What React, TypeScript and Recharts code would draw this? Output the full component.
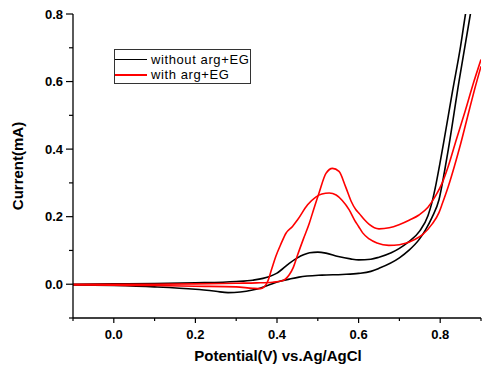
import React from "react";
import { LineChart, Line, XAxis, YAxis, Legend } from "recharts";

const FONT = '"Liberation Sans", Arial, sans-serif';

const xTicks = [-0.1, 0, 0.1, 0.2, 0.3, 0.4, 0.5, 0.6, 0.7, 0.8, 0.9];
const yTicks = [-0.1, 0, 0.1, 0.2, 0.3, 0.4, 0.5, 0.6, 0.7, 0.8];

const seriesNames = ["without arg+EG", "with arg+EG"];
const seriesColors = ["#000000", "#ff0000"];

// [potential (V), current (mA)] - each scan branch, left to right
const blackUpper = [
  [-0.1, 0.0], [0.0, 0.001], [0.1, 0.002], [0.2, 0.004], [0.3, 0.008],
  [0.34, 0.012], [0.38, 0.022], [0.4, 0.033], [0.43, 0.062], [0.45, 0.078],
  [0.465, 0.087], [0.48, 0.093], [0.5, 0.095], [0.52, 0.092], [0.55, 0.082],
  [0.58, 0.075], [0.6, 0.072], [0.63, 0.074], [0.65, 0.08], [0.68, 0.093],
  [0.7, 0.106], [0.72, 0.123], [0.75, 0.158], [0.77, 0.203], [0.78, 0.243],
  [0.79, 0.298], [0.8, 0.362], [0.81, 0.43], [0.83, 0.57], [0.85, 0.705],
  [0.862, 0.8], [0.88, 0.92],
];

const blackLower = [
  [-0.1, -0.002], [0.0, -0.004], [0.1, -0.008], [0.2, -0.015], [0.25, -0.021],
  [0.28, -0.025], [0.31, -0.023], [0.34, -0.017], [0.36, -0.011], [0.38, -0.002],
  [0.405, 0.008], [0.43, 0.015], [0.454, 0.021], [0.51, 0.027], [0.56, 0.029],
  [0.6, 0.032], [0.63, 0.038], [0.65, 0.047], [0.7, 0.078], [0.723, 0.1],
  [0.75, 0.135], [0.764, 0.161], [0.78, 0.198], [0.797, 0.25], [0.81, 0.33],
  [0.82, 0.4], [0.846, 0.6], [0.874, 0.8], [0.89, 0.91],
];

const redBroad = [
  [-0.1, -0.002], [0.0, -0.003], [0.1, -0.004], [0.2, -0.006], [0.3, -0.008],
  [0.34, -0.012], [0.36, -0.013], [0.37, -0.006], [0.377, 0.008], [0.387, 0.045],
  [0.397, 0.082], [0.41, 0.12], [0.422, 0.151], [0.438, 0.171], [0.45, 0.19],
  [0.475, 0.235], [0.495, 0.258], [0.51, 0.267], [0.528, 0.27], [0.545, 0.264],
  [0.56, 0.248], [0.577, 0.22], [0.59, 0.19], [0.6, 0.171], [0.61, 0.152],
  [0.626, 0.134], [0.645, 0.122], [0.674, 0.115], [0.7, 0.117], [0.715, 0.121],
  [0.735, 0.131], [0.756, 0.146], [0.78, 0.178], [0.797, 0.212], [0.805, 0.238],
  [0.82, 0.29], [0.835, 0.35], [0.85, 0.415], [0.87, 0.51], [0.885, 0.58],
  [0.9, 0.645],
];

const redSharp = [
  [-0.1, 0.0], [0.0, 0.0], [0.1, 0.0], [0.2, 0.001], [0.3, 0.003],
  [0.35, 0.004], [0.39, 0.006], [0.413, 0.01], [0.43, 0.028], [0.44, 0.05],
  [0.45, 0.085], [0.465, 0.135], [0.479, 0.18], [0.49, 0.222], [0.503, 0.27],
  [0.52, 0.328], [0.536, 0.343], [0.552, 0.334], [0.568, 0.289], [0.582, 0.245],
  [0.593, 0.221], [0.601, 0.21], [0.615, 0.19], [0.626, 0.177], [0.65, 0.164],
  [0.675, 0.167], [0.699, 0.176], [0.725, 0.19], [0.748, 0.205], [0.77, 0.228],
  [0.789, 0.262], [0.805, 0.3], [0.82, 0.35], [0.84, 0.43], [0.862, 0.516],
  [0.88, 0.59], [0.9, 0.665],
];

const toPoints = (arr: number[][]) => arr.map(([v, i]) => ({ v, i }));

const isMajor = (v: number) => Math.round(v * 10) % 2 === 0;

const BottomTick = ({ x, y, payload }: any) => {
  const major = isMajor(payload.value);
  return (
    <g>
      <line x1={x} x2={x} y1={y} y2={y + (major ? 5 : 3)} stroke="#000" strokeWidth={1.2} />
      {major && (
        <text x={x} y={y + 21} textAnchor="middle" fontSize={13} fontWeight="bold" fontFamily={FONT} fill="#000">
          {payload.value.toFixed(1)}
        </text>
      )}
    </g>
  );
};

const LeftTick = ({ x, y, payload }: any) => {
  const major = isMajor(payload.value);
  return (
    <g>
      <line x1={x - (major ? 7 : 4)} x2={x} y1={y} y2={y} stroke="#000" strokeWidth={1.2} />
      {major && (
        <text x={x - 10} y={y + 4.6} textAnchor="end" fontSize={13} fontWeight="bold" fontFamily={FONT} fill="#000">
          {payload.value.toFixed(1)}
        </text>
      )}
    </g>
  );
};

const NoLabel = () => <g />;

const YTitle = ({ viewBox }: any) => {
  const cx = viewBox.x + 23;
  const cy = viewBox.y + viewBox.height / 2;
  return (
    <text x={cx} y={cy} transform={`rotate(-90 ${cx} ${cy})`} textAnchor="middle" fontSize={15} fontWeight="bold" fontFamily={FONT} fill="#000">
      Current(mA)
    </text>
  );
};

const XTitle = ({ viewBox }: any) => {
  const cx = viewBox.x + viewBox.width / 2 + 1;
  return (
    <text x={cx} y={viewBox.y + 43} textAnchor="middle" fontSize={15} fontWeight="bold" fontFamily={FONT} fill="#000">
      Potential(V) vs.Ag/AgCl
    </text>
  );
};

const LegendBox = () => (
  <div
    style={{
      width: 137,
      height: 35,
      boxSizing: "border-box",
      border: "1px solid #333",
      position: "relative",
      background: "#fff",
      fontFamily: FONT,
      fontSize: 13,
      color: "#000",
    }}
  >
    {seriesNames.map((n, k) => (
      <div
        key={n}
        style={{ position: "absolute", left: 0, top: 2 + k * 15, height: 15, display: "flex", alignItems: "center" }}
      >
        <div style={{ width: 32, height: 0, borderTop: `${k ? 2 : 1.5}px solid ${seriesColors[k]}` }} />
        <span style={{ marginLeft: 4, letterSpacing: 0.6, whiteSpace: "nowrap", lineHeight: "15px" }}>{n}</span>
      </div>
    ))}
  </div>
);

export default function App() {
  const branches = [
    { key: "bu", data: toPoints(blackUpper), color: seriesColors[0] },
    { key: "bl", data: toPoints(blackLower), color: seriesColors[0] },
    { key: "rb", data: toPoints(redBroad), color: seriesColors[1] },
    { key: "rs", data: toPoints(redSharp), color: seriesColors[1] },
  ];
  return (
    <div style={{ position: "absolute", left: 0, top: 0, width: 482, height: 373, background: "#fff", fontFamily: FONT }}>
      <LineChart width={482} height={373} margin={{ top: 14, right: 1, bottom: 0, left: 0 }}>
        <XAxis
          xAxisId="bottom"
          dataKey="v"
          type="number"
          domain={[-0.1, 0.9]}
          ticks={xTicks}
          allowDataOverflow
          height={55}
          tickSize={0}
          tickMargin={0}
          tickLine={false}
          tick={<BottomTick />}
          axisLine={{ stroke: "#000", strokeWidth: 1.3 }}
          label={<XTitle />}
          interval={0}
        />
        <XAxis
          xAxisId="top"
          orientation="top"
          mirror
          dataKey="v"
          type="number"
          domain={[-0.1, 0.9]}
          ticks={xTicks}
          allowDataOverflow
          height={0}
          tickSize={3}
          tick={NoLabel}
          tickLine={{ stroke: "#444" }}
          axisLine={{ stroke: "#000", strokeWidth: 1.2 }}
          interval={0}
        />
        <YAxis
          yAxisId="left"
          type="number"
          domain={[-0.1, 0.8]}
          ticks={yTicks}
          allowDataOverflow
          width={73}
          tickSize={0}
          tickMargin={0}
          tickLine={false}
          tick={<LeftTick />}
          axisLine={{ stroke: "#000", strokeWidth: 1.3 }}
          label={<YTitle />}
          interval={0}
        />
        <YAxis
          yAxisId="right"
          orientation="right"
          mirror
          type="number"
          domain={[-0.1, 0.8]}
          ticks={yTicks}
          allowDataOverflow
          width={0}
          tickSize={3}
          tick={NoLabel}
          tickLine={{ stroke: "#999" }}
          axisLine={{ stroke: "#999", strokeWidth: 1 }}
          interval={0}
        />
        {branches.map((b) => (
          <Line
            key={b.key}
            xAxisId="bottom"
            yAxisId="left"
            data={b.data}
            dataKey="i"
            type="monotone"
            stroke={b.color}
            strokeWidth={1.6}
            dot={false}
            activeDot={false}
            legendType="none"
            isAnimationActive={false}
          />
        ))}
        <Legend
          layout="horizontal"
          verticalAlign="middle"
          align="center"
          wrapperStyle={{ left: 114, top: 49, width: 137, height: 35 }}
          content={() => <LegendBox />}
        />
      </LineChart>
    </div>
  );
}
